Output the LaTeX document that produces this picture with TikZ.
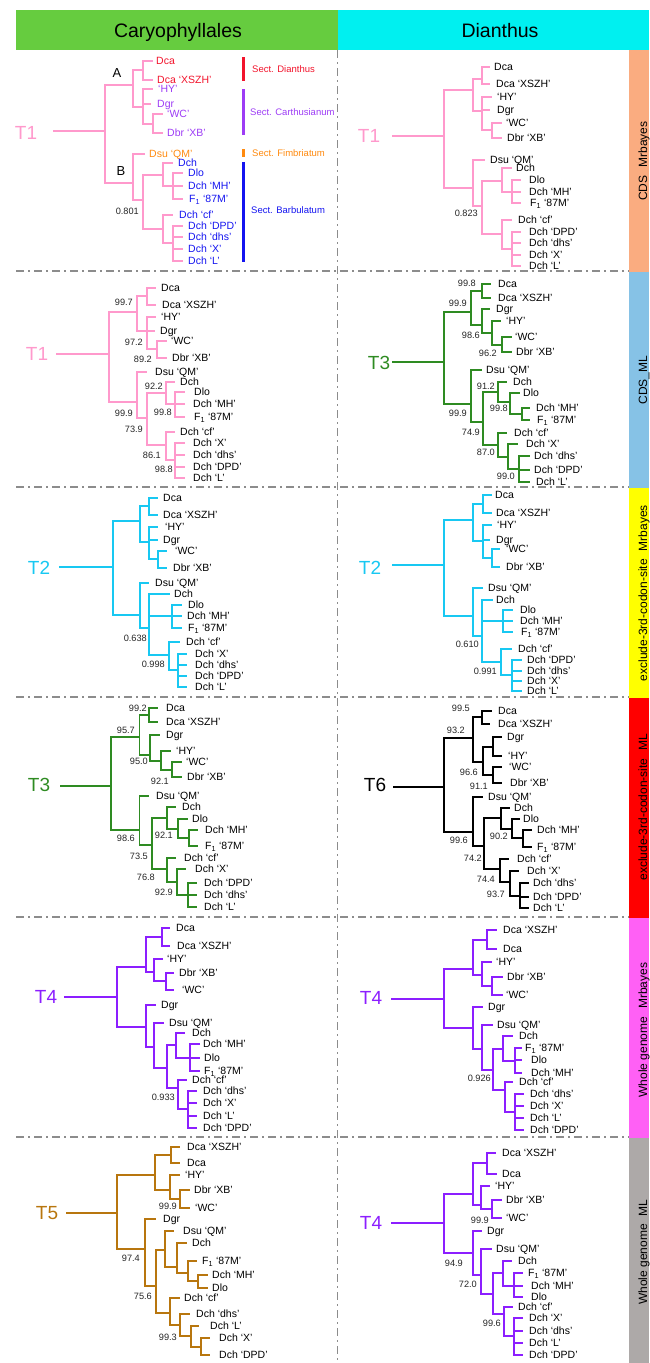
\documentclass[tikz,border=0pt]{standalone}
\usepackage{fontspec}
\setmainfont{Liberation Sans}
\definecolor{tpink}{HTML}{FF99CC}
\definecolor{tgreen}{HTML}{2E8B22}
\definecolor{tcyan}{HTML}{18C8F2}
\definecolor{tpurple}{HTML}{8C1EFF}
\definecolor{tbrown}{HTML}{B8760E}
\definecolor{hgreen}{HTML}{66CC3F}
\definecolor{hcyan}{HTML}{00F0F0}
\definecolor{bsalmon}{HTML}{FAAC80}
\definecolor{bblue}{HTML}{86C2E6}
\definecolor{byellow}{HTML}{FFFF00}
\definecolor{bred}{HTML}{FF0000}
\definecolor{bmag}{HTML}{FF60F5}
\definecolor{bgrey}{HTML}{ADA9A8}
\definecolor{sred}{HTML}{F2142C}
\definecolor{spurple}{HTML}{9D3CF5}
\definecolor{sorange}{HTML}{FF8A0F}
\definecolor{sblue}{HTML}{1414F0}
\definecolor{sepgrey}{HTML}{8C8C8C}
% taxon names
\newcommand\lbDca{Dca}
\newcommand\lbXS{Dca ‘XSZH’}
\newcommand\lbHY{‘HY’}
\newcommand\lbDgr{Dgr}
\newcommand\lbWC{‘WC’}
\newcommand\lbXB{Dbr ‘XB’}
\newcommand\lbQM{Dsu ‘QM’}
\newcommand\lbDch{Dch}
\newcommand\lbDlo{Dlo}
\newcommand\lbMH{Dch ‘MH’}
\newcommand\lbFM{F\textsubscript{1} ‘87M’}
\newcommand\lbCF{Dch ‘cf’}
\newcommand\lbDPD{Dch ‘DPD’}
\newcommand\lbDHS{Dch ‘dhs’}
\newcommand\lbX{Dch ‘X’}
\newcommand\lbL{Dch ‘L’}
% gap between the two words of a side label
\newcommand\gapw{\hspace{8pt}}
% leaf: [text colour]{name}{tip x}{y}{label x}{label}
\newcommand\Lf[6][black]{\coordinate (#2) at (#3,#4); \node[leaf,text=#1] (#2t) at (#5,#4) {#6};}
% rectangular branches from a parent to its children
\newcommand\Ed[2]{\foreach \ch in {#2}{\draw[br] (#1) |- (\ch);}}
% support value, right aligned
\newcommand\Sv[4]{\node[bsv] (#1) at (#2,#3) {#4};}
\begin{document}
\begin{tikzpicture}[x=1pt,y=-1pt,
  leaf/.style={anchor=base west,inner sep=0pt,yshift=-3.8pt,font=\fontsize{10.5}{12}\selectfont},
  bsv/.style={anchor=base east,inner sep=0pt,yshift=-3.3pt,font=\fontsize{9.2}{11}\selectfont,text=black!85},
  tl/.style={anchor=base,inner sep=0pt,yshift=-6.8pt,font=\fontsize{19}{22}\selectfont},
  hd/.style={anchor=base,inner sep=0pt,font=\fontsize{19.5}{23}\selectfont},
  barlab/.style={rotate=90,anchor=base,inner sep=0pt,font=\fontsize{12}{14}\selectfont},
  sect/.style={anchor=west,inner sep=0pt,font=\fontsize{9.5}{11}\selectfont},
  br/.style={line width=1.8pt},
  sep/.style={draw=sepgrey,line width=1.8pt,dash pattern=on 8pt off 4pt on 2pt off 4pt}]
\useasboundingbox (0,0) rectangle (649,1363);

% ---------- headers
\fill[hgreen] (16,10) rectangle (337.5,49.5);
\fill[hcyan] (337.5,10) rectangle (649,49.5);
\node[hd] (hcar) at (178,37) {Caryophyllales};
\node[hd] (hdia) at (500,37) {Dianthus};

% ---------- side bars
\fill[bsalmon] (629,49.5) rectangle (649,271.5);
\fill[bblue] (629,271.5) rectangle (649,487.5);
\fill[byellow] (629,487.5) rectangle (649,697.5);
\fill[bred] (629,697.5) rectangle (649,917.5);
\fill[bmag] (629,917.5) rectangle (649,1137.5);
\fill[bgrey] (629,1137.5) rectangle (649,1363);
\node[barlab] (bl1) at (647,161) {CDS\gapw Mrbayes};
\node[barlab] (bl2) at (647,380) {CDS\_ML};
\node[barlab] (bl3) at (647,593) {exclude-3rd-codon-site\gapw Mrbayes};
\node[barlab] (bl4) at (647,807) {exclude-3rd-codon-site\gapw ML};
\node[barlab] (bl5) at (647,1030) {Whole genome\gapw Mrbayes};
\node[barlab] (bl6) at (647,1252) {Whole genome\gapw ML};

% ---------- separators
\draw[sep] (337.5,50) -- (337.5,1363);
\foreach \yy in {271,487,697,917,1137} \draw[sep] (16,\yy) -- (629,\yy);

% ---------- row 1, left: T1 with sections
\begin{scope}[color=tpink]
\node[tl,text=tpink] (aT) at (26,133) {T1};
\coordinate (as) at (53,131);
\coordinate (aR) at (105,131);
\coordinate (aA) at (133,85);
\coordinate (aP) at (143,70);
\coordinate (aCA) at (143,107);
\coordinate (aW) at (153,124);
\coordinate (aB) at (133,183);
\coordinate (aC) at (143,200);
\coordinate (aD) at (163,175);
\coordinate (aDb) at (173,186);
\coordinate (aE) at (163,229);
\coordinate (aEb) at (173,243);
\Lf[sred]{adca}{153}{61}{156}{\lbDca}
\Lf[sred]{axs}{153}{80}{157}{\lbXS}
\Lf[spurple]{ahy}{153}{89}{158}{\lbHY}
\Lf[spurple]{adgr}{151}{104}{157}{\lbDgr}
\Lf[spurple]{awc}{163}{114}{167}{\lbWC}
\Lf[spurple]{axb}{163}{133}{167}{\lbXB}
\Lf[sorange]{adsu}{145}{154}{149}{\lbQM}
\Lf[sblue]{adch}{173}{163}{178}{\lbDch}
\Lf[sblue]{adlo}{183}{173}{188}{\lbDlo}
\Lf[sblue]{amh}{183}{186}{188}{\lbMH}
\Lf[sblue]{af1}{183}{199}{189}{\lbFM}
\Lf[sblue]{acf}{173}{215}{179}{\lbCF}
\Lf[sblue]{adpd}{183}{226}{188}{\lbDPD}
\Lf[sblue]{adhs}{183}{237}{188}{\lbDHS}
\Lf[sblue]{ax}{183}{249}{188}{\lbX}
\Lf[sblue]{al}{183}{261}{188}{\lbL}
\draw[br] (as) -- (aR);
\Ed{aR}{aA,aB}
\Ed{aA}{aP,aCA}
\Ed{aP}{adca,axs}
\Ed{aCA}{ahy,adgr,aW}
\Ed{aW}{awc,axb}
\Ed{aB}{adsu,aC}
\Ed{aC}{aD,aE}
\Ed{aD}{adch,aDb}
\Ed{aDb}{adlo,amh,af1}
\Ed{aE}{acf,aEb}
\Ed{aEb}{adpd,adhs,ax,al}
\Sv{av1}{139}{211}{0.801}
\end{scope}
\node[font=\fontsize{13}{15}\selectfont,inner sep=0pt] (cladeA) at (117,73) {A};
\node[font=\fontsize{13}{15}\selectfont,inner sep=0pt] (cladeB) at (121,171) {B};
\fill[sred] (241.5,57) rectangle (244.5,81);
\fill[spurple] (241.5,89) rectangle (244.5,135);
\fill[sorange] (241.5,149) rectangle (244.5,157);
\fill[sblue] (241.5,162) rectangle (244.5,262);
\node[sect,text=sred] (sd) at (252,69) {Sect. Dianthus};
\node[sect,text=spurple] (sc) at (250,112) {Sect. Carthusianum};
\node[sect,text=sorange] (sf) at (252,153) {Sect. Fimbriatum};
\node[sect,text=sblue] (sb) at (251,210) {Sect. Barbulatum};

% ---------- row 1, right: T1
\begin{scope}[color=tpink]
\node[tl,text=tpink] (bT) at (369,136) {T1};
\coordinate (bs) at (392,136);
\coordinate (bR) at (444,136);
\coordinate (bA) at (473,90);
\coordinate (bP) at (482,79);
\coordinate (bCA) at (482,111);
\coordinate (bW) at (492,130);
\coordinate (bB) at (473,188);
\coordinate (bC) at (482,206);
\coordinate (bD) at (502,181);
\coordinate (bDb) at (512,192);
\coordinate (bE) at (502,234);
\coordinate (bEb) at (512,249);
\Lf{bdca}{490}{67}{494}{\lbDca}
\Lf{bxs}{490}{84}{496}{\lbXS}
\Lf{bhy}{492}{97}{497}{\lbHY}
\Lf{bdgr}{490}{110}{497}{\lbDgr}
\Lf{bwc}{502}{123}{506}{\lbWC}
\Lf{bxb}{502}{138}{507}{\lbXB}
\Lf{bdsu}{485}{160}{490}{\lbQM}
\Lf{bdch}{512}{168}{516}{\lbDch}
\Lf{bdlo}{521}{180}{529}{\lbDlo}
\Lf{bmh}{521}{192}{529}{\lbMH}
\Lf{bf1}{521}{203}{530}{\lbFM}
\Lf{bcf}{512}{220}{518}{\lbCF}
\Lf{bdpd}{521}{232}{529}{\lbDPD}
\Lf{bdhs}{521}{243}{529}{\lbDHS}
\Lf{bx}{521}{255}{529}{\lbX}
\Lf{bl}{521}{266}{529}{\lbL}
\draw[br] (bs) -- (bR);
\Ed{bR}{bA,bB}
\Ed{bA}{bP,bCA}
\Ed{bP}{bdca,bxs}
\Ed{bCA}{bhy,bdgr,bW}
\Ed{bW}{bwc,bxb}
\Ed{bB}{bdsu,bC}
\Ed{bC}{bD,bE}
\Ed{bD}{bdch,bDb}
\Ed{bDb}{bdlo,bmh,bf1}
\Ed{bE}{bcf,bEb}
\Ed{bEb}{bdpd,bdhs,bx,bl}
\Sv{bv1}{478}{213}{0.823}
\end{scope}

% ---------- row 2, left: T1
\begin{scope}[color=tpink]
\node[tl,text=tpink] (cT) at (37,354) {T1};
\coordinate (cs) at (56,354);
\coordinate (cR) at (109,354);
\coordinate (cA) at (137,312);
\coordinate (cP) at (147,296);
\coordinate (cCA) at (147,331);
\coordinate (cW) at (157,349);
\coordinate (cB) at (137,402);
\coordinate (cC) at (147,418);
\coordinate (cD) at (166,393);
\coordinate (cDb) at (175,404);
\coordinate (cE) at (166,445);
\coordinate (cEb) at (175,460);
\Lf{cdca}{156}{288}{161}{\lbDca}
\Lf{cxs}{156}{305}{162}{\lbXS}
\Lf{chy}{156}{317}{161}{\lbHY}
\Lf{cdgr}{155}{331}{160}{\lbDgr}
\Lf{cwc}{167}{341}{171}{\lbWC}
\Lf{cxb}{167}{358}{172}{\lbXB}
\Lf{cdsu}{147}{372}{155}{\lbQM}
\Lf{cdch}{175}{382}{180}{\lbDch}
\Lf{cdlo}{185}{392}{194}{\lbDlo}
\Lf{cmh}{185}{404}{193}{\lbMH}
\Lf{cf1}{185}{417}{194}{\lbFM}
\Lf{ccf}{175}{432}{180}{\lbCF}
\Lf{cx}{185}{443}{193}{\lbX}
\Lf{cdhs}{185}{455}{193}{\lbDHS}
\Lf{cdpd}{185}{467}{193}{\lbDPD}
\Lf{cl}{185}{478}{193}{\lbL}
\draw[br] (cs) -- (cR);
\Ed{cR}{cA,cB}
\Ed{cA}{cP,cCA}
\Ed{cP}{cdca,cxs}
\Ed{cCA}{chy,cdgr,cW}
\Ed{cW}{cwc,cxb}
\Ed{cB}{cdsu,cC}
\Ed{cC}{cD,cE}
\Ed{cD}{cdch,cDb}
\Ed{cDb}{cdlo,cmh,cf1}
\Ed{cE}{ccf,cEb}
\Ed{cEb}{cx,cdhs,cdpd,cl}
\Sv{cv1}{133}{302}{99.7}
\Sv{cv2}{143}{342}{97.2}
\Sv{cv3}{152}{359}{89.2}
\Sv{cv4}{133}{413}{99.9}
\Sv{cv5}{143}{429}{73.9}
\Sv{cv6}{163}{386}{92.2}
\Sv{cv7}{172}{412}{99.8}
\Sv{cv8}{161}{455}{86.1}
\Sv{cv9}{173}{469}{98.8}
\end{scope}

% ---------- row 2, right: T3
\begin{scope}[color=tgreen]
\node[tl,text=tgreen] (dT) at (379,363) {T3};
\coordinate (ds) at (392,362);
\coordinate (dR) at (444,362);
\coordinate (dA) at (471,312);
\coordinate (dP) at (482,291);
\coordinate (dCA) at (482,325);
\coordinate (dC2) at (492,333);
\coordinate (dC3) at (502,345);
\coordinate (dB) at (471,404);
\coordinate (dC) at (483,422);
\coordinate (dD) at (498,392);
\coordinate (dDb) at (510,402);
\coordinate (dDc) at (522,414);
\coordinate (dE) at (498,445);
\coordinate (dEb) at (508,457);
\coordinate (dEc) at (519,469);
\Lf{ddca}{491}{284}{498}{\lbDca}
\Lf{dxs}{491}{298}{498}{\lbXS}
\Lf{ddgr}{490}{309}{496}{\lbDgr}
\Lf{dhy}{501}{321}{506}{\lbHY}
\Lf{dwc}{512}{337}{515}{\lbWC}
\Lf{dxb}{512}{352}{516}{\lbXB}
\Lf{ddsu}{482}{370}{486}{\lbQM}
\Lf{ddch}{507}{382}{513}{\lbDch}
\Lf{ddlo}{520}{393}{523}{\lbDlo}
\Lf{dmh}{530}{408}{536}{\lbMH}
\Lf{df1}{530}{420}{537}{\lbFM}
\Lf{dcf}{507}{433}{514}{\lbCF}
\Lf{dx}{518}{444}{526}{\lbX}
\Lf{ddhs}{530}{456}{534}{\lbDHS}
\Lf{ddpd}{530}{470}{534}{\lbDPD}
\Lf{dl}{530}{482}{536}{\lbL}
\draw[br] (ds) -- (dR);
\Ed{dR}{dA,dB}
\Ed{dA}{dP,dCA}
\Ed{dP}{ddca,dxs}
\Ed{dCA}{ddgr,dC2}
\Ed{dC2}{dhy,dC3}
\Ed{dC3}{dwc,dxb}
\Ed{dB}{ddsu,dC}
\Ed{dC}{dD,dE}
\Ed{dD}{ddch,dDb}
\Ed{dDb}{ddlo,dDc}
\Ed{dDc}{dmh,df1}
\Ed{dE}{dcf,dEb}
\Ed{dEb}{dx,dEc}
\Ed{dEc}{ddhs,ddpd,dl}
\Sv{dv1}{476}{283}{99.8}
\Sv{dv2}{467}{303}{99.9}
\Sv{dv3}{480}{335}{98.6}
\Sv{dv4}{497}{353}{96.2}
\Sv{dv5}{467}{413}{99.9}
\Sv{dv6}{480}{432}{74.9}
\Sv{dv7}{495}{386}{91.2}
\Sv{dv8}{508}{408}{99.8}
\Sv{dv9}{495}{452}{87.0}
\Sv{dv10}{515}{476}{99.0}
\end{scope}

% ---------- row 3, left: T2
\begin{scope}[color=tcyan]
\node[tl,text=tcyan] (eT) at (39,568) {T2};
\coordinate (es) at (59,567);
\coordinate (eR) at (113,567);
\coordinate (eA) at (140,521);
\coordinate (eP) at (149,506);
\coordinate (eCA) at (149,542);
\coordinate (eW) at (158,559);
\coordinate (eB) at (140,615);
\coordinate (eC) at (149,628);
\coordinate (eDb) at (172,616);
\coordinate (eE) at (169,655);
\coordinate (eEb) at (178,670);
\Lf{edca}{158}{498}{163}{\lbDca}
\Lf{exs}{158}{515}{163}{\lbXS}
\Lf{ehy}{158}{527}{165}{\lbHY}
\Lf{edgr}{158}{540}{163}{\lbDgr}
\Lf{ewc}{167}{551}{175}{\lbWC}
\Lf{exb}{167}{568}{173}{\lbXB}
\Lf{edsu}{149}{583}{155}{\lbQM}
\Lf{edch}{170}{594}{174}{\lbDch}
\Lf{edlo}{182}{605}{188}{\lbDlo}
\Lf{emh}{182}{616}{187}{\lbMH}
\Lf{ef1}{182}{628}{188}{\lbFM}
\Lf{ecf}{180}{642}{186}{\lbCF}
\Lf{ex}{187}{654}{195}{\lbX}
\Lf{edhs}{187}{665}{195}{\lbDHS}
\Lf{edpd}{187}{676}{195}{\lbDPD}
\Lf{el}{187}{687}{195}{\lbL}
\draw[br] (es) -- (eR);
\Ed{eR}{eA,eB}
\Ed{eA}{eP,eCA}
\Ed{eP}{edca,exs}
\Ed{eCA}{ehy,edgr,eW}
\Ed{eW}{ewc,exb}
\Ed{eB}{edsu,eC}
\Ed{eC}{edch,eDb,eE}
\Ed{eDb}{edlo,emh,ef1}
\Ed{eE}{ecf,eEb}
\Ed{eEb}{ex,edhs,edpd,el}
\Sv{ev1}{147}{638}{0.638}
\Sv{ev2}{165}{664}{0.998}
\end{scope}

% ---------- row 3, right: T2
\begin{scope}[color=tcyan]
\node[tl,text=tcyan] (fT) at (370,568) {T2};
\coordinate (fs) at (392,565);
\coordinate (fR) at (444,565);
\coordinate (fA) at (473,520);
\coordinate (fP) at (483,504);
\coordinate (fCA) at (483,541);
\coordinate (fW) at (492,558);
\coordinate (fB) at (473,616);
\coordinate (fC) at (482,636);
\coordinate (fDb) at (503,621);
\coordinate (fE) at (501,662);
\coordinate (fEb) at (512,675);
\Lf{fdca}{492}{495}{495}{\lbDca}
\Lf{fxs}{492}{513}{496}{\lbXS}
\Lf{fhy}{492}{525}{497}{\lbHY}
\Lf{fdgr}{490}{540}{496}{\lbDgr}
\Lf{fwc}{500}{549}{506}{\lbWC}
\Lf{fxb}{500}{567}{506}{\lbXB}
\Lf{fdsu}{483}{588}{488}{\lbQM}
\Lf{fdch}{493}{600}{496}{\lbDch}
\Lf{fdlo}{513}{610}{520}{\lbDlo}
\Lf{fmh}{513}{621}{520}{\lbMH}
\Lf{ff1}{513}{632}{521}{\lbFM}
\Lf{fcf}{512}{649}{518}{\lbCF}
\Lf{fdpd}{522}{660}{527}{\lbDPD}
\Lf{fdhs}{522}{671}{527}{\lbDHS}
\Lf{fx}{522}{681}{527}{\lbX}
\Lf{fl}{522}{691}{527}{\lbL}
\draw[br] (fs) -- (fR);
\Ed{fR}{fA,fB}
\Ed{fA}{fP,fCA}
\Ed{fP}{fdca,fxs}
\Ed{fCA}{fhy,fdgr,fW}
\Ed{fW}{fwc,fxb}
\Ed{fB}{fdsu,fC}
\Ed{fC}{fdch,fDb,fE}
\Ed{fDb}{fdlo,fmh,ff1}
\Ed{fE}{fcf,fEb}
\Ed{fEb}{fdpd,fdhs,fx,fl}
\Sv{fv1}{479}{644}{0.610}
\Sv{fv2}{497}{671}{0.991}
\end{scope}

% ---------- row 4, left: T3
\begin{scope}[color=tgreen]
\node[tl,text=tgreen] (gT) at (39,785) {T3};
\coordinate (gs) at (60,786);
\coordinate (gR) at (111,786);
\coordinate (gA) at (139.5,737);
\coordinate (gP) at (149,715);
\coordinate (gCA) at (150,755);
\coordinate (gC2) at (161,761);
\coordinate (gC3) at (172,770);
\coordinate (gB) at (139.5,830);
\coordinate (gC) at (152,845);
\coordinate (gD) at (167,818);
\coordinate (gDb) at (178,829);
\coordinate (gDc) at (189,838);
\coordinate (gE) at (167,869);
\coordinate (gEb) at (177,882);
\coordinate (gEc) at (188,895);
\Lf{gdca}{158}{708}{166}{\lbDca}
\Lf{gxs}{158}{722}{166}{\lbXS}
\Lf{gdgr}{160}{735}{166}{\lbDgr}
\Lf{ghy}{171}{751}{176}{\lbHY}
\Lf{gwc}{182}{762}{186}{\lbWC}
\Lf{gxb}{182}{777}{187}{\lbXB}
\Lf{gdsu}{149}{796}{156}{\lbQM}
\Lf{gdch}{176}{807}{182}{\lbDch}
\Lf{gdlo}{188}{819}{192}{\lbDlo}
\Lf{gmh}{198}{830}{205}{\lbMH}
\Lf{gf1}{198}{846}{205}{\lbFM}
\Lf{gcf}{176}{858}{184}{\lbCF}
\Lf{gx}{186}{869}{195}{\lbX}
\Lf{gdpd}{197}{883}{204}{\lbDPD}
\Lf{gdhs}{197}{895}{204}{\lbDHS}
\Lf{gl}{197}{907}{204}{\lbL}
\draw[br] (gs) -- (gR);
\Ed{gR}{gA,gB}
\Ed{gA}{gP,gCA}
\Ed{gP}{gdca,gxs}
\Ed{gCA}{gdgr,gC2}
\Ed{gC2}{ghy,gC3}
\Ed{gC3}{gwc,gxb}
\Ed{gB}{gdsu,gC}
\Ed{gC}{gD,gE}
\Ed{gD}{gdch,gDb}
\Ed{gDb}{gdlo,gDc}
\Ed{gDc}{gmh,gf1}
\Ed{gE}{gcf,gEb}
\Ed{gEb}{gx,gEc}
\Ed{gEc}{gdpd,gdhs,gl}
\Sv{gv1}{147}{708}{99.2}
\Sv{gv2}{135}{730}{95.7}
\Sv{gv3}{148}{761}{95.0}
\Sv{gv4}{169}{781}{92.1}
\Sv{gv5}{135}{838}{98.6}
\Sv{gv6}{148}{856}{73.5}
\Sv{gv7}{173}{835}{92.1}
\Sv{gv8}{155}{877}{76.8}
\Sv{gv9}{173}{892}{92.9}
\end{scope}

% ---------- row 4, right: T6
\begin{scope}[color=black]
\node[tl,text=black] (hT) at (375,785) {T6};
\coordinate (hs) at (393,787);
\coordinate (hR) at (444,787);
\coordinate (hA) at (473,738);
\coordinate (hP) at (482,717);
\coordinate (hCA) at (483,762);
\coordinate (hC2) at (493,747);
\coordinate (hC3) at (493,775);
\coordinate (hB) at (473,832);
\coordinate (hC) at (484,846);
\coordinate (hD) at (501,818);
\coordinate (hDb) at (512,829);
\coordinate (hDc) at (523,838);
\coordinate (hE) at (500,869);
\coordinate (hEb) at (510,882);
\coordinate (hEc) at (520,896);
\Lf{hdca}{492}{711}{498}{\lbDca}
\Lf{hxs}{490}{724}{498}{\lbXS}
\Lf{hdgr}{502}{737}{507}{\lbDgr}
\Lf{hhy}{502}{756}{508}{\lbHY}
\Lf{hwc}{502}{767}{509}{\lbWC}
\Lf{hxb}{502}{783}{510}{\lbXB}
\Lf{hdsu}{483}{797}{488}{\lbQM}
\Lf{hdch}{510}{808}{514}{\lbDch}
\Lf{hdlo}{520}{819}{523}{\lbDlo}
\Lf{hmh}{532}{830}{537}{\lbMH}
\Lf{hf1}{532}{847}{537}{\lbFM}
\Lf{hcf}{509}{859}{517}{\lbCF}
\Lf{hx}{519}{871}{527}{\lbX}
\Lf{hdhs}{529}{883}{533}{\lbDHS}
\Lf{hdpd}{529}{897}{533}{\lbDPD}
\Lf{hl}{529}{908}{533}{\lbL}
\draw[br] (hs) -- (hR);
\Ed{hR}{hA,hB}
\Ed{hA}{hP,hCA}
\Ed{hP}{hdca,hxs}
\Ed{hCA}{hC2,hC3}
\Ed{hC2}{hdgr,hhy}
\Ed{hC3}{hwc,hxb}
\Ed{hB}{hdsu,hC}
\Ed{hC}{hD,hE}
\Ed{hD}{hdch,hDb}
\Ed{hDb}{hdlo,hDc}
\Ed{hDc}{hmh,hf1}
\Ed{hE}{hcf,hEb}
\Ed{hEb}{hx,hEc}
\Ed{hEc}{hdhs,hdpd,hl}
\Sv{hv1}{470}{708}{99.5}
\Sv{hv2}{465}{730}{93.2}
\Sv{hv3}{478}{772}{96.6}
\Sv{hv4}{488}{786}{91.1}
\Sv{hv5}{468}{840}{99.6}
\Sv{hv6}{482}{858}{74.2}
\Sv{hv7}{508}{836}{90.2}
\Sv{hv8}{495}{879}{74.4}
\Sv{hv9}{505}{894}{93.7}
\end{scope}

% ---------- row 5, left: T4
\begin{scope}[color=tpurple]
\node[tl,text=tpurple] (iT) at (46,997) {T4};
\coordinate (is) at (64,997);
\coordinate (iR) at (117,997);
\coordinate (iA) at (146,967);
\coordinate (iP) at (162,937);
\coordinate (iCA) at (154,972);
\coordinate (iC2) at (166,981);
\coordinate (iB) at (146,1027);
\coordinate (iB2) at (154,1047);
\coordinate (iC) at (167,1068);
\coordinate (iD) at (176,1045);
\coordinate (iDb) at (190,1058);
\coordinate (iE) at (178,1088);
\coordinate (iEb) at (188,1109);
\Lf{idca}{170}{928}{176}{\lbDca}
\Lf{ixs}{170}{946}{177}{\lbXS}
\Lf{ihy}{163}{959}{167}{\lbHY}
\Lf{ixb}{174}{973}{179}{\lbXB}
\Lf{iwc}{174}{990}{182}{\lbWC}
\Lf{idgr}{156}{1005}{161}{\lbDgr}
\Lf{idsu}{164}{1023}{169}{\lbQM}
\Lf{idch}{185}{1033}{192}{\lbDch}
\Lf{imh}{200}{1044}{203}{\lbMH}
\Lf{idlo}{200}{1058}{204}{\lbDlo}
\Lf{if1}{200}{1071}{204}{\lbFM}
\Lf{icf}{187}{1080}{192}{\lbCF}
\Lf{idhs}{197}{1091}{203}{\lbDHS}
\Lf{ix}{197}{1103}{203}{\lbX}
\Lf{il}{197}{1116}{203}{\lbL}
\Lf{idpd}{197}{1128}{203}{\lbDPD}
\draw[br] (is) -- (iR);
\Ed{iR}{iA,iB}
\Ed{iA}{iP,iCA}
\Ed{iP}{idca,ixs}
\Ed{iCA}{ihy,iC2}
\Ed{iC2}{ixb,iwc}
\Ed{iB}{idgr,iB2}
\Ed{iB2}{idsu,iC}
\Ed{iC}{iD,iE}
\Ed{iD}{idch,iDb}
\Ed{iDb}{imh,idlo,if1}
\Ed{iE}{icf,iEb}
\Ed{iEb}{idhs,ix,il,idpd}
\Sv{iv1}{175}{1097}{0.933}
\end{scope}

% ---------- row 5, right: T4
\begin{scope}[color=tpurple]
\node[tl,text=tpurple] (jT) at (371,998) {T4};
\coordinate (js) at (391,999);
\coordinate (jR) at (444,999);
\coordinate (jA) at (473,969);
\coordinate (jP) at (487,940);
\coordinate (jCA) at (482,975);
\coordinate (jC2) at (492,986);
\coordinate (jB) at (473,1028);
\coordinate (jB2) at (482,1049);
\coordinate (jC) at (493,1070);
\coordinate (jD) at (503,1049);
\coordinate (jDb) at (515,1061);
\coordinate (jE) at (505,1090);
\coordinate (jEb) at (515,1112);
\Lf{jxs}{497}{930}{503}{\lbXS}
\Lf{jdca}{497}{949}{503}{\lbDca}
\Lf{jhy}{492}{962}{496}{\lbHY}
\Lf{jxb}{503}{977}{507}{\lbXB}
\Lf{jwc}{503}{995}{506}{\lbWC}
\Lf{jdgr}{483}{1007}{488}{\lbDgr}
\Lf{jdsu}{493}{1025}{497}{\lbQM}
\Lf{jdch}{513}{1036}{519}{\lbDch}
\Lf{jf1}{522}{1048}{525}{\lbFM}
\Lf{jdlo}{522}{1060}{531}{\lbDlo}
\Lf{jmh}{522}{1073}{531}{\lbMH}
\Lf{jcf}{513}{1082}{519}{\lbCF}
\Lf{jdhs}{524}{1094}{530}{\lbDHS}
\Lf{jx}{524}{1106}{530}{\lbX}
\Lf{jl}{524}{1118}{530}{\lbL}
\Lf{jdpd}{524}{1130}{530}{\lbDPD}
\draw[br] (js) -- (jR);
\Ed{jR}{jA,jB}
\Ed{jA}{jP,jCA}
\Ed{jP}{jxs,jdca}
\Ed{jCA}{jhy,jC2}
\Ed{jC2}{jxb,jwc}
\Ed{jB}{jdgr,jB2}
\Ed{jB2}{jdsu,jC}
\Ed{jC}{jD,jE}
\Ed{jD}{jdch,jDb}
\Ed{jDb}{jf1,jdlo,jmh}
\Ed{jE}{jcf,jEb}
\Ed{jEb}{jdhs,jx,jl,jdpd}
\Sv{jv1}{491}{1078}{0.926}
\end{scope}

% ---------- row 6, left: T5
\begin{scope}[color=tbrown]
\node[tl,text=tbrown] (kT) at (47,1213) {T5};
\coordinate (ks) at (66,1213);
\coordinate (kR) at (117,1213);
\coordinate (kA) at (155,1175);
\coordinate (kP) at (171,1155);
\coordinate (kCA) at (170,1190);
\coordinate (kC2) at (180,1199);
\coordinate (kB) at (145,1249);
\coordinate (kB2) at (156,1286);
\coordinate (kB3) at (165,1250);
\coordinate (kB4) at (177,1267);
\coordinate (kB5) at (188,1273);
\coordinate (kB6) at (198,1281);
\coordinate (kE) at (170,1313);
\coordinate (kEb) at (180,1325);
\coordinate (kEc) at (191,1336);
\coordinate (kEd) at (201,1347);
\Lf{kxs}{180}{1147}{187}{\lbXS}
\Lf{kdca}{180}{1163}{187}{\lbDca}
\Lf{khy}{180}{1175}{185}{\lbHY}
\Lf{kxb}{190}{1190}{194}{\lbXB}
\Lf{kwc}{190}{1208}{195}{\lbWC}
\Lf{kdgr}{156}{1219}{163}{\lbDgr}
\Lf{kdsu}{174}{1231}{183}{\lbQM}
\Lf{kdch}{187}{1243}{192}{\lbDch}
\Lf{kf1}{197}{1261}{202}{\lbFM}
\Lf{kmh}{208}{1275}{212}{\lbMH}
\Lf{kdlo}{208}{1288}{212}{\lbDlo}
\Lf{kcf}{180}{1298}{184}{\lbCF}
\Lf{kdhs}{190}{1314}{196}{\lbDHS}
\Lf{kl}{199}{1326}{210}{\lbL}
\Lf{kx}{210}{1338}{219}{\lbX}
\Lf{kdpd}{210}{1355}{219}{\lbDPD}
\draw[br] (ks) -- (kR);
\Ed{kR}{kA,kB}
\Ed{kA}{kP,kCA}
\Ed{kP}{kxs,kdca}
\Ed{kCA}{khy,kC2}
\Ed{kC2}{kxb,kwc}
\Ed{kB}{kdgr,kB2}
\Ed{kB2}{kB3,kE}
\Ed{kB3}{kdsu,kB4}
\Ed{kB4}{kdch,kB5}
\Ed{kB5}{kf1,kB6}
\Ed{kB6}{kmh,kdlo}
\Ed{kE}{kcf,kEb}
\Ed{kEb}{kdhs,kEc}
\Ed{kEc}{kl,kEd}
\Ed{kEd}{kx,kdpd}
\Sv{kv1}{177}{1206}{99.9}
\Sv{kv2}{140}{1258}{97.4}
\Sv{kv3}{152}{1296}{75.6}
\Sv{kv4}{177}{1337}{99.3}
\end{scope}

% ---------- row 6, right: T4
\begin{scope}[color=tpurple]
\node[tl,text=tpurple] (lT) at (371,1223) {T4};
\coordinate (ls) at (391,1223);
\coordinate (lR) at (444,1223);
\coordinate (lA) at (473,1194);
\coordinate (lP) at (487,1163);
\coordinate (lCA) at (481,1205);
\coordinate (lC2) at (492,1209);
\coordinate (lB) at (473,1253);
\coordinate (lB2) at (481,1275);
\coordinate (lC) at (493,1294);
\coordinate (lD) at (503,1273);
\coordinate (lDb) at (514,1286);
\coordinate (lE) at (504,1314);
\coordinate (lEb) at (514,1336);
\Lf{lxs}{496}{1153}{502}{\lbXS}
\Lf{ldca}{497}{1174}{502}{\lbDca}
\Lf{lhy}{490}{1186}{495}{\lbHY}
\Lf{lxb}{502}{1200}{506}{\lbXB}
\Lf{lwc}{502}{1218}{506}{\lbWC}
\Lf{ldgr}{482}{1231}{487}{\lbDgr}
\Lf{ldsu}{492}{1249}{496}{\lbQM}
\Lf{ldch}{512}{1261}{518}{\lbDch}
\Lf{lf1}{523}{1273}{528}{\lbFM}
\Lf{lmh}{523}{1286}{531}{\lbMH}
\Lf{ldlo}{523}{1297}{531}{\lbDlo}
\Lf{lcf}{513}{1307}{518}{\lbCF}
\Lf{lx}{523}{1318}{529}{\lbX}
\Lf{ldhs}{523}{1331}{529}{\lbDHS}
\Lf{ll}{523}{1343}{529}{\lbL}
\Lf{ldpd}{523}{1355}{529}{\lbDPD}
\draw[br] (ls) -- (lR);
\Ed{lR}{lA,lB}
\Ed{lA}{lP,lCA}
\Ed{lP}{lxs,ldca}
\Ed{lCA}{lhy,lC2}
\Ed{lC2}{lxb,lwc}
\Ed{lB}{ldgr,lB2}
\Ed{lB2}{ldsu,lC}
\Ed{lC}{lD,lE}
\Ed{lD}{ldch,lDb}
\Ed{lDb}{lf1,lmh,ldlo}
\Ed{lE}{lcf,lEb}
\Ed{lEb}{lx,ldhs,ll,ldpd}
\Sv{lv1}{489}{1220}{99.9}
\Sv{lv2}{463}{1263}{94.9}
\Sv{lv3}{477}{1284}{72.0}
\Sv{lv4}{501}{1323}{99.6}
\end{scope}
\end{tikzpicture}
\end{document}
